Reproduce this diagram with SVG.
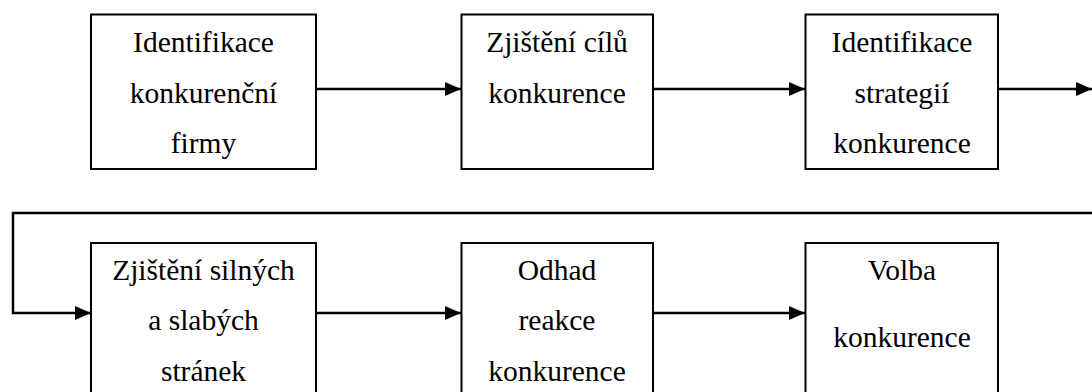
<svg xmlns="http://www.w3.org/2000/svg" width="1092" height="392" viewBox="0 0 1092 392">
  <style>
    .box { fill: #ffffff; stroke: #000000; stroke-width: 2; }
    .lbl { font-family: 'Liberation Serif', 'Times New Roman', serif; font-size: 29.5px; fill: #000000; text-anchor: middle; }
    .wire { fill: none; stroke: #000000; stroke-width: 2.5; }
  </style>
  <defs>
    <marker id="arrow" viewBox="0 0 16 14" refX="16" refY="7" markerWidth="16" markerHeight="14" markerUnits="userSpaceOnUse" orient="auto">
      <path d="M0,0 L16,7 L0,14 Z" fill="#000000"/>
    </marker>
  </defs>
  <rect width="1092" height="392" fill="#ffffff"/>

  <!-- flow arrows; the long return line wraps from the top row into the bottom row -->
  <g id="connectors">
    <line class="wire" x1="316" y1="89" x2="461" y2="89" marker-end="url(#arrow)"/>
    <line class="wire" x1="653" y1="89" x2="805" y2="89" marker-end="url(#arrow)"/>
    <line class="wire" x1="998" y1="89" x2="1092" y2="89" marker-end="url(#arrow)"/>
    <polyline class="wire" points="1092,213 13,213 13,313 91,313" marker-end="url(#arrow)"/>
    <line class="wire" x1="316" y1="313" x2="461" y2="313" marker-end="url(#arrow)"/>
    <line class="wire" x1="653" y1="313" x2="805" y2="313" marker-end="url(#arrow)"/>
  </g>

  <g id="identifikace-firmy">
    <rect class="box" x="91" y="14.5" width="225" height="154.5"/>
    <text class="lbl" x="203.5" y="52">Identifikace</text>
    <text class="lbl" x="203.5" y="103">konkurenční</text>
    <text class="lbl" x="203.5" y="153">firmy</text>
  </g>

  <g id="zjisteni-cilu">
    <rect class="box" x="461.5" y="14.5" width="191.5" height="154.5"/>
    <text class="lbl" x="557" y="52">Zjištění cílů</text>
    <text class="lbl" x="557" y="103">konkurence</text>
  </g>

  <g id="identifikace-strategii">
    <rect class="box" x="805.5" y="14.5" width="192.5" height="154.5"/>
    <text class="lbl" x="902" y="52">Identifikace</text>
    <text class="lbl" x="902" y="103">strategií</text>
    <text class="lbl" x="902" y="153">konkurence</text>
  </g>

  <!-- bottom row boxes run past the lower edge of the canvas -->
  <g id="silne-slabe-stranky">
    <rect class="box" x="91" y="243" width="225" height="160"/>
    <text class="lbl" x="203.5" y="280">Zjištění silných</text>
    <text class="lbl" x="203.5" y="330">a slabých</text>
    <text class="lbl" x="203.5" y="381">stránek</text>
  </g>

  <g id="odhad-reakce">
    <rect class="box" x="461.5" y="243" width="191.5" height="160"/>
    <text class="lbl" x="557" y="280">Odhad</text>
    <text class="lbl" x="557" y="330">reakce</text>
    <text class="lbl" x="557" y="381">konkurence</text>
  </g>

  <g id="volba-konkurence">
    <rect class="box" x="805.5" y="243" width="192.5" height="160"/>
    <text class="lbl" x="902" y="280">Volba</text>
    <text class="lbl" x="902" y="347">konkurence</text>
  </g>
</svg>
